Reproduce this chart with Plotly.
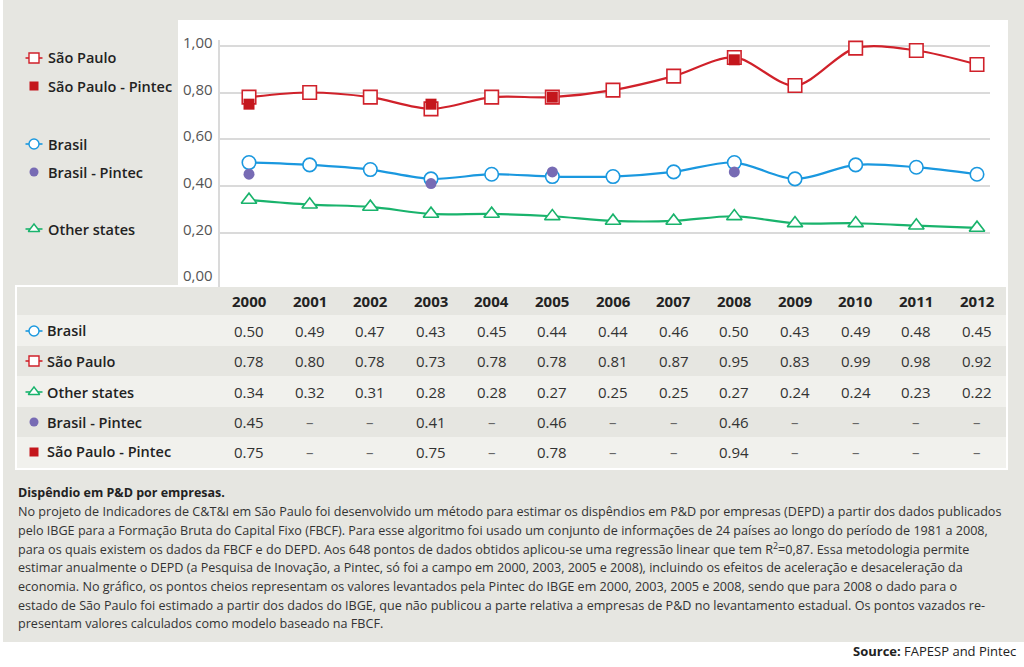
import plotly.graph_objects as go

# ---------------- data ----------------
years = list(range(2000, 2013))
brasil = [0.50, 0.49, 0.47, 0.43, 0.45, 0.44, 0.44, 0.46, 0.50, 0.43, 0.49, 0.48, 0.45]
sao_paulo = [0.78, 0.80, 0.78, 0.73, 0.78, 0.78, 0.81, 0.87, 0.95, 0.83, 0.99, 0.98, 0.92]
other_states = [0.34, 0.32, 0.31, 0.28, 0.28, 0.27, 0.25, 0.25, 0.27, 0.24, 0.24, 0.23, 0.22]
brasil_pintec = [0.45, None, None, 0.41, None, 0.46, None, None, 0.46, None, None, None, None]
sp_pintec = [0.75, None, None, 0.75, None, 0.78, None, None, 0.94, None, None, None, None]
y_ticks = [0.0, 0.2, 0.4, 0.6, 0.8, 1.0]
y_tick_labels = ["0,00", "0,20", "0,40", "0,60", "0,80", "1,00"]

notes_title = "Dispêndio em P&D por empresas."
notes_lines = [
    "No projeto de Indicadores de C&T&I em São Paulo foi desenvolvido um método para estimar os dispêndios em P&D por empresas (DEPD) a partir dos dados publicados",
    "pelo IBGE para a Formação Bruta do Capital Fixo (FBCF). Para esse algoritmo foi usado um conjunto de informações de 24 países ao longo do período de 1981 a 2008,",
    "para os quais existem os dados da FBCF e do DEPD. Aos 648 pontos de dados obtidos aplicou-se uma regressão linear que tem R<sup>2</sup>=0,87. Essa metodologia permite",
    "estimar anualmente o DEPD (a Pesquisa de Inovação, a Pintec, só foi a campo em 2000, 2003, 2005 e 2008), incluindo os efeitos de aceleração e desaceleração da",
    "economia. No gráfico, os pontos cheios representam os valores levantados pela Pintec do IBGE em 2000, 2003, 2005 e 2008, sendo que para 2008 o dado para o",
    "estado de São Paulo foi estimado a partir dos dados do IBGE, que não publicou a parte relativa a empresas de P&D no levantamento estadual. Os pontos vazados re-",
    "presentam valores calculados como modelo baseado na FBCF.",
]

# ---------------- styles ----------------
W, H = 1024, 667
BG = "#e6e6e1"
ROW_LIGHT = "#f1f1ed"
ROW_DARK = "#e6e6e1"
RED = "#d0212a"
RED_F = "#c4161c"
BLUE = "#1a98df"
PURPLE = "#776bb4"
GREEN = "#19b36c"
FONT = "Open Sans"
TXT = "#222222"


def px(x):
    return x / W


def py(y):
    return 1 - y / H


series = {
    "São Paulo": dict(y=sao_paulo, color=RED, symbol="square", fill="white", line=True),
    "São Paulo - Pintec": dict(y=sp_pintec, color=RED_F, symbol="square", fill=RED_F, line=False),
    "Brasil": dict(y=brasil, color=BLUE, symbol="circle", fill="white", line=True),
    "Brasil - Pintec": dict(y=brasil_pintec, color=PURPLE, symbol="circle", fill=PURPLE, line=False),
    "Other states": dict(y=other_states, color=GREEN, symbol="triangle-up", fill="white", line=True),
}

fig = go.Figure()

# main lines (open markers)
for name in ["Other states", "Brasil", "São Paulo"]:
    s = series[name]
    fig.add_trace(go.Scatter(
        x=years, y=s["y"], mode="lines+markers", name=name,
        line=dict(color=s["color"], width=2.2, shape="spline", smoothing=0.9),
        marker=dict(symbol=s["symbol"], size=13.5, color="white",
                    line=dict(color=s["color"], width=1.6)),
        showlegend=False, cliponaxis=False, xaxis="x", yaxis="y",
    ))
# Pintec filled markers
for name in ["Brasil - Pintec", "São Paulo - Pintec"]:
    s = series[name]
    fig.add_trace(go.Scatter(
        x=years, y=s["y"], mode="markers", name=name,
        marker=dict(symbol=s["symbol"], size=11, color=s["fill"], line=dict(width=0)),
        showlegend=False, cliponaxis=False, xaxis="x", yaxis="y",
    ))

shapes = []
annotations = []

# backgrounds
shapes.append(dict(type="rect", xref="paper", yref="paper", x0=px(3), x1=1, y0=py(642), y1=1,
                   fillcolor=BG, line=dict(width=0), layer="below"))
shapes.append(dict(type="rect", xref="paper", yref="paper", x0=px(178), x1=px(1008), y0=py(290), y1=py(20),
                   fillcolor="white", line=dict(width=0), layer="below"))
# table outer white border
shapes.append(dict(type="rect", xref="paper", yref="paper", x0=px(15), x1=px(1008), y0=py(470), y1=py(285),
                   fillcolor="white", line=dict(width=0), layer="below"))
row_bounds = [(287, 315, ROW_DARK), (315, 346, ROW_LIGHT), (346, 376, ROW_DARK),
              (376, 407, ROW_LIGHT), (407, 437, ROW_DARK), (437, 468, ROW_LIGHT)]
for y0, y1, c in row_bounds:
    shapes.append(dict(type="rect", xref="paper", yref="paper", x0=px(17), x1=px(1006),
                       y0=py(y1), y1=py(y0), fillcolor=c, line=dict(width=0), layer="below"))

# y tick labels
for v, lab in zip(y_ticks, y_tick_labels):
    annotations.append(dict(x=px(215), y=v, xref="paper", yref="y", text=lab, showarrow=False,
                            xanchor="right", yanchor="middle", yshift=4,
                            font=dict(family=FONT, size=15, color="#555555")))

# glyph helper on pixel overlay axis
def glyph(name, cx, cy, with_line=True, msize=10):
    s = series[name]
    if with_line and s["line"]:
        fig.add_trace(go.Scatter(x=[cx - 8.5, cx + 8.5], y=[cy, cy], mode="lines",
                                 line=dict(color=s["color"], width=1.6),
                                 showlegend=False, hoverinfo="skip", xaxis="x2", yaxis="y2"))
    if s["line"]:
        mk = dict(symbol=s["symbol"], size=msize, color="white", line=dict(color=s["color"], width=1.4))
    else:
        mk = dict(symbol=s["symbol"], size=msize - 1, color=s["fill"], line=dict(width=0))
    fig.add_trace(go.Scatter(x=[cx], y=[cy], mode="markers", marker=mk,
                             showlegend=False, hoverinfo="skip", xaxis="x2", yaxis="y2"))


# chart legend (left panel)
legend_rows = [("São Paulo", 58), ("São Paulo - Pintec", 86), ("Brasil", 144),
               ("Brasil - Pintec", 172), ("Other states", 229)]
for name, yy in legend_rows:
    glyph(name, 34, yy)
    annotations.append(dict(x=px(46), y=py(yy), xref="paper", yref="paper", text=name,
                            showarrow=False, xanchor="left", yanchor="middle",
                            font=dict(family=FONT, size=14.5, color=TXT, weight=600)))

# table header
for yr in years:
    annotations.append(dict(x=yr, y=py(301), xref="x", yref="paper", text=str(yr), showarrow=False,
                            xanchor="center", yanchor="middle",
                            font=dict(family=FONT, size=15, color=TXT, weight=700)))

table_rows = [("Brasil", 331), ("São Paulo", 361), ("Other states", 392),
              ("Brasil - Pintec", 422), ("São Paulo - Pintec", 452)]
for name, yy in table_rows:
    glyph(name, 34, yy)
    annotations.append(dict(x=px(45), y=py(yy), xref="paper", yref="paper", text=name,
                            showarrow=False, xanchor="left", yanchor="middle",
                            font=dict(family=FONT, size=14.5, color=TXT, weight=600)))
    for yr, v in zip(years, series[name]["y"]):
        txt = f"{v:.2f}" if v is not None else "–"
        col = "#333333" if v is not None else "#666666"
        annotations.append(dict(x=yr, y=py(yy), xref="x", yref="paper", text=txt, showarrow=False,
                                xanchor="center", yanchor="middle",
                                font=dict(family=FONT, size=15, color=col)))

# notes
annotations.append(dict(x=px(16), y=py(493), xref="paper", yref="paper", text="<b>" + notes_title + "</b>",
                        showarrow=False, xanchor="left", yanchor="middle",
                        font=dict(family=FONT, size=12.5, color=TXT)))
for i, line in enumerate(notes_lines):
    annotations.append(dict(x=px(16), y=py(511.7 + i * 18.7), xref="paper", yref="paper", text=line,
                            showarrow=False, xanchor="left", yanchor="middle",
                            font=dict(family=FONT, size=12.6, color="#333333")))

annotations.append(dict(x=px(1018), y=py(651), xref="paper", yref="paper",
                        text="<b>Source:</b> FAPESP and Pintec", showarrow=False,
                        xanchor="right", yanchor="middle",
                        font=dict(family=FONT, size=13, color=TXT)))

# axes geometry
x_lo = 2000 - (249 - 220) / 60.67
x_hi = 2012 + (990 - 977) / 60.67
y_zero_px, y_unit_px = 279.3, 233.5
y_top_px, y_bot_px = 40, 287
y_lo = (y_zero_px - y_bot_px) / y_unit_px
y_hi = (y_zero_px - y_top_px) / y_unit_px

fig.update_layout(
    width=W, height=H, margin=dict(l=0, r=0, t=0, b=0),
    paper_bgcolor="white", plot_bgcolor="rgba(0,0,0,0)",
    shapes=shapes, annotations=annotations, showlegend=False,
    xaxis=dict(domain=[px(220), px(990)], range=[x_lo, x_hi], showgrid=False, zeroline=False,
               showticklabels=False, ticks="", showline=False, anchor="y", fixedrange=True),
    yaxis=dict(domain=[py(y_bot_px), py(y_top_px)], range=[y_lo, y_hi], tickvals=[0.2, 0.4, 0.6, 0.8, 1.0],
               showticklabels=False, ticks="", gridcolor="#dadada", gridwidth=2, zeroline=False,
               showline=True, linecolor="#dadada", linewidth=2, anchor="x", fixedrange=True),
    xaxis2=dict(domain=[0, 1], range=[0, W], visible=False, anchor="y2", fixedrange=True),
    yaxis2=dict(domain=[0, 1], range=[H, 0], visible=False, anchor="x2", fixedrange=True),
    hovermode=False,
)

fig.write_html("out.html", config={"displayModeBar": False},
               post_script="document.body.style.margin='0';document.body.style.padding='0';")
